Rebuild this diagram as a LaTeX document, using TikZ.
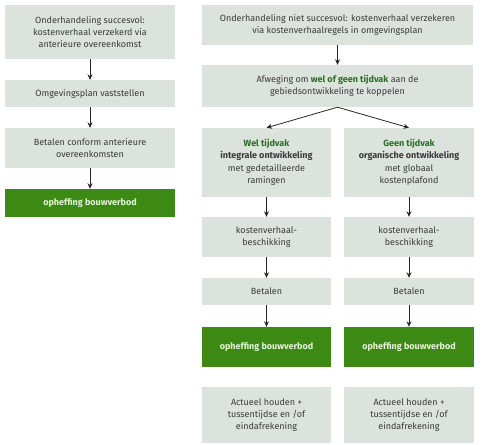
\documentclass[tikz,border=0pt]{standalone}
\usepackage{fontspec}
\setmainfont{Fira Sans}
\usetikzlibrary{arrows.meta}
\definecolor{boxfill}{HTML}{DCE3DC}
\definecolor{greenfill}{HTML}{3C8A14}
\definecolor{txt}{HTML}{3A3A3A}
\definecolor{hl}{HTML}{2F6B2A}
\definecolor{lighttxt}{HTML}{E6F2DA}
\tikzset{
  box/.style={fill=boxfill, draw=none, text=txt, align=center, inner sep=2pt,
    font=\fontsize{9}{12.4}\selectfont},
  gbox/.style={fill=greenfill, draw=none, text=lighttxt, align=center, inner sep=2pt,
    font=\fontsize{9}{12.4}\selectfont\bfseries},
  arr/.style={draw=black!85, line width=0.8pt, -{Stealth[length=5.5pt,width=5pt]}},
}
\begin{document}
\begin{tikzpicture}[x=1pt,y=-1pt]
\useasboundingbox (0,0) rectangle (484,444);
% left column
\node[box, minimum width=170pt, minimum height=54pt] (l1) at (90,32) {Onderhandeling succesvol:\\kostenverhaal verzekerd via\\anterieure overeenkomst};
\node[box, minimum width=170pt, minimum height=27pt] (l2) at (90,93.5) {Omgevingsplan vaststellen};
\node[box, minimum width=170pt, minimum height=40pt] (l3) at (90,148) {Betalen conform anterieure\\overeenkomsten};
\node[gbox, minimum width=170pt, minimum height=28pt] (l4) at (90,203) {opheffing bouwverbod};
\draw[arr] (l1.south) -- (l2.north);
\draw[arr] (l2.south) -- (l3.north);
\draw[arr] (l3.south) -- (l4.north);
% right top
\node[box, minimum width=271pt, minimum height=40pt] (r1) at (337.5,25) {Onderhandeling niet succesvol: kostenverhaal verzekeren\\via kostenverhaalregels in omgevingsplan};
\node[box, minimum width=271pt, minimum height=42pt] (r2) at (337.5,86) {Afweging om {\bfseries\color{hl}wel of geen tijdvak} aan de\\gebiedsontwikkeling te koppelen};
\draw[arr] (r1.south) -- (r2.north);
% branch A
\node[box, minimum width=129pt, minimum height=69pt] (a1) at (266.5,162.5) {{\bfseries\color{hl}Wel tijdvak}\\{\bfseries integrale ontwikkeling}\\met gedetailleerde\\ramingen};
\node[box, minimum width=129pt, minimum height=40pt] (a2) at (266.5,237) {kostenverhaal-\\beschikking};
\node[box, minimum width=129pt, minimum height=27pt] (a3) at (266.5,291.5) {Betalen};
\node[gbox, minimum width=129pt, minimum height=40pt] (a4) at (266.5,347) {opheffing bouwverbod};
\node[box, minimum width=129pt, minimum height=56pt] (a5) at (266.5,415) {Actueel houden +\\tussentijdse en /of\\eindafrekening};
% branch B
\node[box, minimum width=130pt, minimum height=69pt] (b1) at (409,162.5) {{\bfseries\color{hl}Geen tijdvak}\\{\bfseries organische ontwikkeling}\\met globaal\\kostenplafond};
\node[box, minimum width=130pt, minimum height=40pt] (b2) at (409,237) {kostenverhaal-\\beschikking};
\node[box, minimum width=130pt, minimum height=27pt] (b3) at (409,291.5) {Betalen};
\node[gbox, minimum width=130pt, minimum height=40pt] (b4) at (409,347) {opheffing bouwverbod};
\node[box, minimum width=130pt, minimum height=56pt] (b5) at (409,415) {Actueel houden +\\tussentijdse en /of\\eindafrekening};
\draw[arr] (r2.south) -- (a1.north);
\draw[arr] (r2.south) -- (b1.north);
\draw[arr] (a1.south) -- (a2.north);
\draw[arr] (a2.south) -- (a3.north);
\draw[arr] (a3.south) -- (a4.north);
\draw[arr] (b1.south) -- (b2.north);
\draw[arr] (b2.south) -- (b3.north);
\draw[arr] (b3.south) -- (b4.north);
\end{tikzpicture}
\end{document}
